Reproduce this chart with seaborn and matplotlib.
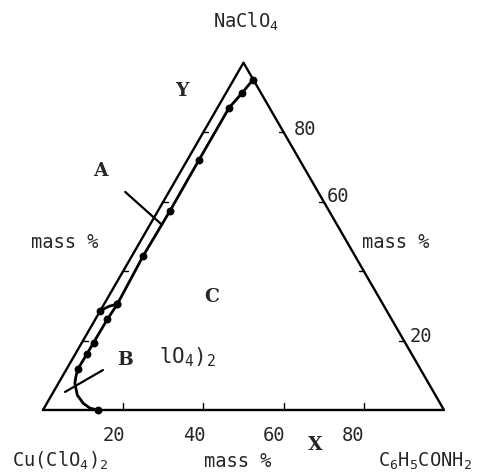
import numpy as np
import pandas as pd
import matplotlib
matplotlib.use("Agg")
import matplotlib.pyplot as plt
import seaborn as sns

sns.set_style("white")
plt.rcParams["font.family"] = ["DejaVu Sans Mono", "DejaVu Sans"]
plt.rcParams["mathtext.fontset"] = "custom"
plt.rcParams["mathtext.rm"] = "DejaVu Sans Mono"
plt.rcParams["mathtext.it"] = "DejaVu Sans Mono"

# Compositions in mass %: NaClO4 (top corner), C6H5CONH2 (right corner);
# Cu(ClO4)2 makes up the rest.
upper_naclo4 = [95.0, 91.3, 87.0, 72.0, 57.3, 44.3, 30.4]
upper_benzamide = [4.8, 4.0, 2.9, 2.9, 3.0, 2.8, 3.3]

link_naclo4 = [30.4, 29.9, 28.6]
link_benzamide = [3.3, 1.6, 0.0]

lower_naclo4 = [30.4, 26.1, 19.4, 16.1, 11.8, 9.6, 7.7, 4.3, 1.9, 0.5, 0.0]
lower_benzamide = [3.3, 3.0, 2.9, 2.9, 2.8, 3.4, 4.1, 6.4, 9.1, 11.5, 13.8]
lower_measured = [True, True, True, True, True, False, False, False, False, False, True]

# leader lines for the field labels A and B
leader_a_naclo4 = [62.8, 53.3]
leader_a_benzamide = [-10.9, 3.05]
leader_b_naclo4 = [5.2, 11.5]
leader_b_benzamide = [2.9, 9.2]

axis_ticks = [20, 40, 60, 80]
bottom_tick_labels = ["20", "40", "60", "80"]
right_tick_labels = {80: "80", 60: "60", 20: "20"}


def to_xy(naclo4, benzamide):
    y_frac = np.asarray(naclo4, dtype=float)
    x_frac = np.asarray(benzamide, dtype=float)
    return x_frac + y_frac / 2.0, y_frac * np.sqrt(3) / 2.0


fig = plt.figure(figsize=(4.81, 4.76), dpi=100)
ax = fig.add_axes([0, 0, 1, 1])
ax.set_xlim(-10.72, 109.23)
ax.set_ylim(-16.46, 102.24)
ax.axis("off")

# triangle frame
corner_n = [0, 0, 100, 0]
corner_b = [0, 100, 0, 0]
fx, fy = to_xy(corner_n, corner_b)
frame = pd.DataFrame({"x": fx, "y": fy})
sns.lineplot(data=frame, x="x", y="y", sort=False, estimator=None,
             color="black", lw=1.7, ax=ax)

# tick marks on the three edges
for t in axis_ticks:
    ax.plot([t, t], [0, 1.8], color="black", lw=1.0)
    lx, ly = to_xy([t], [0])
    ax.plot([lx[0], lx[0] + 1.2], [ly[0], ly[0]], color="black", lw=1.0)
    rx, ry = to_xy([t], [100 - t])
    ax.plot([rx[0], rx[0] - 1.2], [ry[0], ry[0]], color="black", lw=1.0)

# phase boundaries
for n_vals, b_vals in [(upper_naclo4, upper_benzamide),
                       (link_naclo4, link_benzamide),
                       (lower_naclo4, lower_benzamide)]:
    cx, cy = to_xy(n_vals, b_vals)
    sns.lineplot(x=cx, y=cy, sort=False, estimator=None,
                 color="black", lw=2.0, ax=ax)

for n_vals, b_vals in [(leader_a_naclo4, leader_a_benzamide),
                       (leader_b_naclo4, leader_b_benzamide)]:
    cx, cy = to_xy(n_vals, b_vals)
    sns.lineplot(x=cx, y=cy, sort=False, estimator=None,
                 color="black", lw=1.6, ax=ax)

# measured points
pts_n = upper_naclo4 + [link_naclo4[-1]] + [n for n, m in zip(lower_naclo4, lower_measured) if m]
pts_b = upper_benzamide + [link_benzamide[-1]] + [b for b, m in zip(lower_benzamide, lower_measured) if m]
px, py = to_xy(pts_n, pts_b)
sns.scatterplot(x=px, y=py, color="black", s=32, edgecolor="black",
                linewidth=0, zorder=5, ax=ax)


def put(text, x_px, y_px, ha="left", va="baseline", **kw):
    ax.text(x_px / 481, 1 - y_px / 476, text, transform=ax.transAxes,
            ha=ha, va=va, fontsize=kw.pop("fontsize", 13.5), **kw)


put("NaClO$_4$", 213, 28)
put("Cu(ClO$_4$)$_2$", 12, 467)
put("C$_6$H$_5$CONH$_2$", 378, 467)
put("mass %", 31, 248)
put("mass %", 362, 248)
put("mass %", 204, 467)

for lab, xpx in zip(bottom_tick_labels, [103, 183, 263, 342]):
    put(lab, xpx, 441)
for t, (xpx, ypx) in zip([80, 60, 20], [(294, 135), (327, 202), (410, 342)]):
    put(right_tick_labels[t], xpx, ypx)

put("lO$_4$)$_2$", 159, 363, fontsize=15)

bold = dict(fontweight="bold", family=["DejaVu Serif", "DejaVu Sans"],
            fontsize=13.5)
put("Y", 182, 91, ha="center", va="center", **bold)
put("A", 100, 171, ha="center", va="center", **bold)
put("C", 212, 297, ha="center", va="center", **bold)
put("B", 125, 360, ha="center", va="center", **bold)
put("X", 315, 445, ha="center", va="center", **bold)

fig.savefig("out.png", dpi=100)
